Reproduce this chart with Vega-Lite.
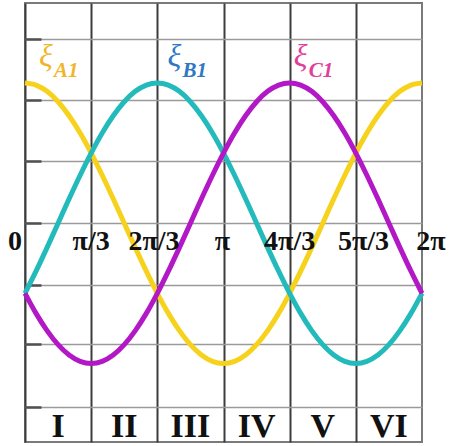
{
  "$schema": "https://vega.github.io/schema/vega-lite/v6.json",
  "width": 397,
  "height": 439,
  "autosize": "none",
  "padding": {"left": 25, "top": 3, "right": 40, "bottom": 4},
  "background": "#ffffff",
  "config": {
    "view": {"stroke": "#7a7a7a", "strokeWidth": 2},
    "font": "Liberation Serif, Times New Roman, Times, serif"
  },
  "resolve": {"scale": {"color": "independent"}},
  "datasets": {
    "wave": [
      {"deg": 0, "A": 1, "B": -0.5, "C": -0.5},
      {"deg": 10, "A": 0.985, "B": -0.342, "C": -0.643},
      {"deg": 20, "A": 0.94, "B": -0.174, "C": -0.766},
      {"deg": 30, "A": 0.866, "B": 0, "C": -0.866},
      {"deg": 40, "A": 0.766, "B": 0.174, "C": -0.94},
      {"deg": 50, "A": 0.643, "B": 0.342, "C": -0.985},
      {"deg": 60, "A": 0.5, "B": 0.5, "C": -1},
      {"deg": 70, "A": 0.342, "B": 0.643, "C": -0.985},
      {"deg": 80, "A": 0.174, "B": 0.766, "C": -0.94},
      {"deg": 90, "A": 0, "B": 0.866, "C": -0.866},
      {"deg": 100, "A": -0.174, "B": 0.94, "C": -0.766},
      {"deg": 110, "A": -0.342, "B": 0.985, "C": -0.643},
      {"deg": 120, "A": -0.5, "B": 1, "C": -0.5},
      {"deg": 130, "A": -0.643, "B": 0.985, "C": -0.342},
      {"deg": 140, "A": -0.766, "B": 0.94, "C": -0.174},
      {"deg": 150, "A": -0.866, "B": 0.866, "C": 0},
      {"deg": 160, "A": -0.94, "B": 0.766, "C": 0.174},
      {"deg": 170, "A": -0.985, "B": 0.643, "C": 0.342},
      {"deg": 180, "A": -1, "B": 0.5, "C": 0.5},
      {"deg": 190, "A": -0.985, "B": 0.342, "C": 0.643},
      {"deg": 200, "A": -0.94, "B": 0.174, "C": 0.766},
      {"deg": 210, "A": -0.866, "B": 0, "C": 0.866},
      {"deg": 220, "A": -0.766, "B": -0.174, "C": 0.94},
      {"deg": 230, "A": -0.643, "B": -0.342, "C": 0.985},
      {"deg": 240, "A": -0.5, "B": -0.5, "C": 1},
      {"deg": 250, "A": -0.342, "B": -0.643, "C": 0.985},
      {"deg": 260, "A": -0.174, "B": -0.766, "C": 0.94},
      {"deg": 270, "A": 0, "B": -0.866, "C": 0.866},
      {"deg": 280, "A": 0.174, "B": -0.94, "C": 0.766},
      {"deg": 290, "A": 0.342, "B": -0.985, "C": 0.643},
      {"deg": 300, "A": 0.5, "B": -1, "C": 0.5},
      {"deg": 310, "A": 0.643, "B": -0.985, "C": 0.342},
      {"deg": 320, "A": 0.766, "B": -0.94, "C": 0.174},
      {"deg": 330, "A": 0.866, "B": -0.866, "C": 0},
      {"deg": 340, "A": 0.94, "B": -0.766, "C": -0.174},
      {"deg": 350, "A": 0.985, "B": -0.643, "C": -0.342},
      {"deg": 360, "A": 1, "B": -0.5, "C": -0.5}
    ],
    "angles": [
      {"pos": -9, "t": "0"},
      {"pos": 60, "t": "π/3"},
      {"pos": 117, "t": "2π/3"},
      {"pos": 179, "t": "π"},
      {"pos": 240, "t": "4π/3"},
      {"pos": 307, "t": "5π/3"},
      {"pos": 368, "t": "2π"}
    ],
    "sectors": [
      {"mid": 30, "t": "I"},
      {"mid": 90, "t": "II"},
      {"mid": 150, "t": "III"},
      {"mid": 210, "t": "IV"},
      {"mid": 270, "t": "V"},
      {"mid": 330, "t": "VI"}
    ],
    "names": [
      {"phase": "A", "xi": 19, "sub": "A1"},
      {"phase": "B", "xi": 135.5, "sub": "B1"},
      {"phase": "C", "xi": 250, "sub": "C1"}
    ]
  },
  "layer": [
    {
      "data": {"name": "wave"},
      "transform": [{"fold": ["A", "B", "C"], "as": ["phase", "value"]}],
      "mark": {"type": "line", "strokeWidth": 5, "interpolate": "monotone", "strokeCap": "butt"},
      "encoding": {
        "x": {
          "field": "deg", "type": "quantitative",
          "scale": {"domain": [0, 360], "nice": false, "zero": false},
          "axis": {
            "orient": "bottom", "values": [0, 60, 120, 180, 240, 300],
            "grid": true, "gridColor": "#3c3c3c", "gridWidth": 2, "gridOpacity": 1,
            "labels": false, "ticks": false, "domain": false, "title": null
          }
        },
        "y": {
          "field": "value", "type": "quantitative",
          "scale": {"domain": [-1.56, 1.57], "nice": false, "zero": false},
          "axis": {
            "orient": "left", "values": [-1.31, -0.86, -0.44, 0, 0.44, 0.88, 1.31],
            "grid": true, "gridColor": "#9a9a9a", "gridWidth": 1.5, "gridOpacity": 1,
            "ticks": true, "tickSize": -16, "tickColor": "#505050", "tickWidth": 2.5,
            "labels": false, "domain": false, "title": null
          }
        },
        "color": {
          "field": "phase", "type": "nominal", "legend": null,
          "scale": {"domain": ["A", "B", "C"], "range": ["#f7d21c", "#22baba", "#b318c6"]}
        }
      }
    },
    {
      "data": {"name": "angles"},
      "mark": {"type": "text", "font": "Liberation Serif, Times New Roman, Times, serif", "fontWeight": "bold", "fontSize": 28, "align": "center", "baseline": "alphabetic", "color": "#111111", "clip": false},
      "encoding": {
        "x": {"field": "pos", "type": "quantitative"},
        "y": {"datum": -0.19},
        "text": {"field": "t"}
      }
    },
    {
      "data": {"name": "sectors"},
      "mark": {"type": "text", "font": "Liberation Serif, Times New Roman, Times, serif", "fontWeight": "bold", "fontSize": 34, "align": "center", "baseline": "alphabetic", "color": "#111111"},
      "encoding": {
        "x": {"field": "mid", "type": "quantitative"},
        "y": {"datum": -1.525},
        "text": {"field": "t"}
      }
    },
    {
      "data": {"name": "names"},
      "mark": {"type": "text", "font": "Liberation Serif, Times New Roman, Times, serif", "fontStyle": "italic", "fontSize": 32, "align": "center", "baseline": "alphabetic"},
      "encoding": {
        "x": {"field": "xi", "type": "quantitative"},
        "y": {"datum": 1.12},
        "text": {"value": "ξ"},
        "color": {
          "field": "phase", "type": "nominal", "legend": null,
          "scale": {"domain": ["A", "B", "C"], "range": ["#f0b62a", "#2f78c2", "#e0409a"]}
        }
      }
    },
    {
      "data": {"name": "names"},
      "mark": {"type": "text", "font": "Liberation Serif, Times New Roman, Times, serif", "fontStyle": "italic", "fontWeight": "bold", "fontSize": 21, "align": "left", "baseline": "alphabetic", "dx": 8, "dy": 11},
      "encoding": {
        "x": {"field": "xi", "type": "quantitative"},
        "y": {"datum": 1.12},
        "text": {"field": "sub"},
        "color": {
          "field": "phase", "type": "nominal", "legend": null,
          "scale": {"domain": ["A", "B", "C"], "range": ["#f0b62a", "#2f78c2", "#e0409a"]}
        }
      }
    }
  ]
}
